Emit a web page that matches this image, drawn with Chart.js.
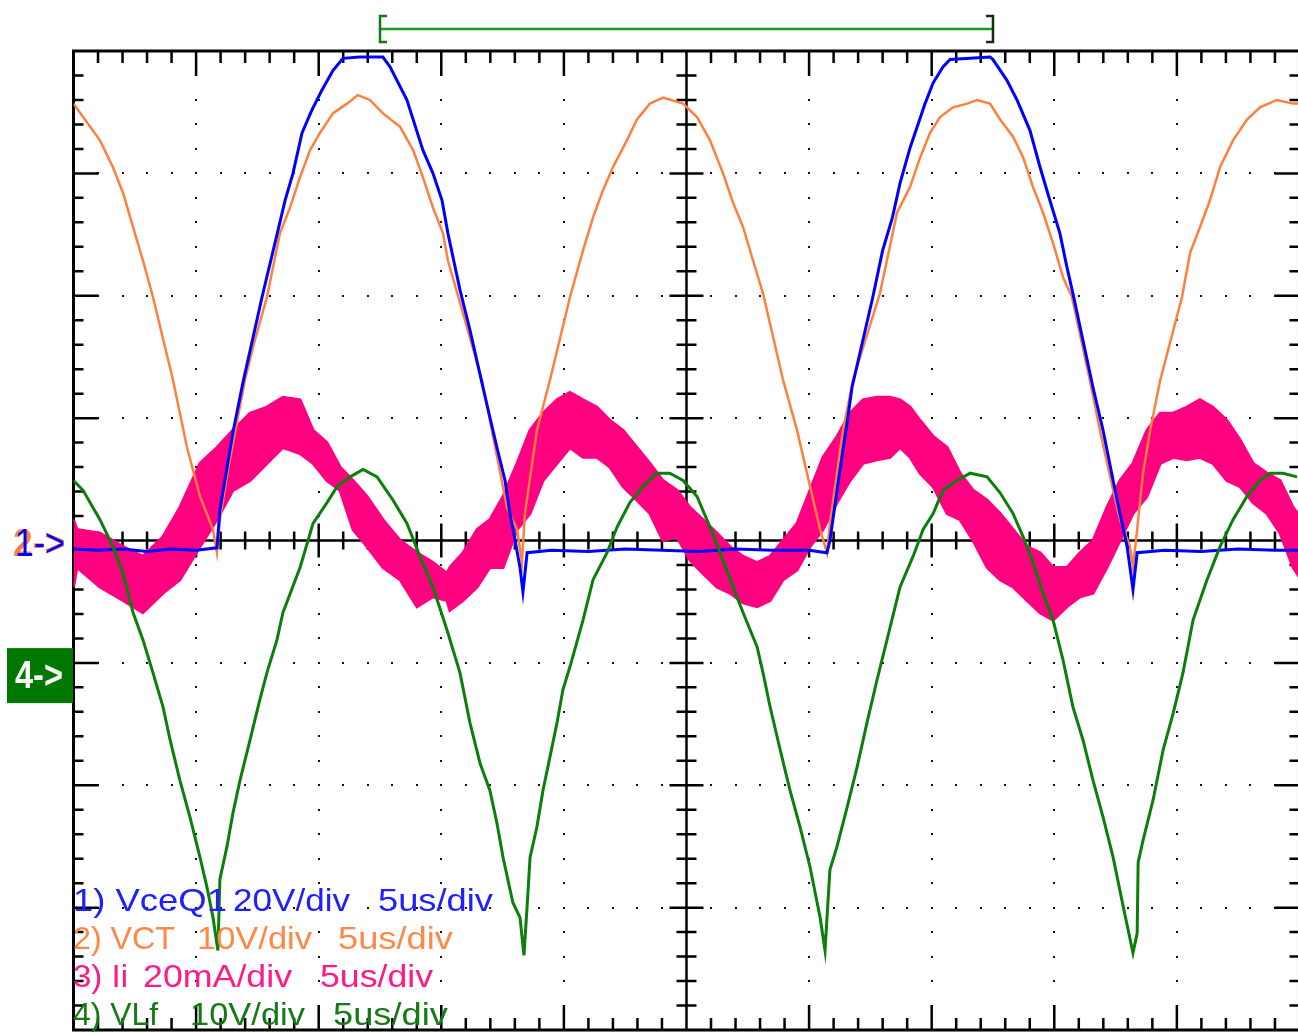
<!DOCTYPE html>
<html>
<head>
<meta charset="utf-8">
<title>Scope capture</title>
<script src="https://cdn.jsdelivr.net/npm/chart.js@4.4.0/dist/chart.umd.min.js"></script>
<style>
    html, body { margin: 0; padding: 0; background: #ffffff; }
    #wrap { width: 1298px; height: 1032px; position: relative; }
</style>
</head>
<body>
<div id="wrap"><canvas id="scope" width="1298" height="1032"></canvas></div>
<script>
// time in us (5 us/div, 10 div), values in screen divisions (8 div, 0 = centre)

var vceQ1 = [[0,-0.07],[1,-0.08],[2,-0.07],[3,-0.09],[4,-0.07],[5,-0.08],[5.85,-0.06],[5.97,0.25],[6.50,0.88],[6.91,1.29],
    [7.69,1.99],[8.18,2.40],[8.63,2.78],[8.95,3.00],[9.32,3.33],[9.73,3.52],[10.13,3.68],[10.58,3.84],[10.99,3.94],[11.68,3.95],
    [12.62,3.95],[12.91,3.87],[13.60,3.60],[14.25,3.19],[14.66,3.00],[15.03,2.78],[15.27,2.51],[15.76,2.05],[16.17,1.72],[16.70,1.25],
    [17.27,0.76],[17.60,0.49],[17.80,0.22],[18.01,0.00],[18.21,-0.22],[18.33,-0.42],[18.50,-0.10],[19.5,-0.08],[21,-0.09],[22.5,-0.07],
    [24,-0.08],[25.5,-0.09],[27,-0.07],[28.5,-0.08],[30,-0.08],[30.73,-0.10],[30.85,0.00],[31.2,0.49],[31.55,0.96],[31.75,1.25],
    [32.6,1.99],[33.0,2.37],[33.4,2.64],[33.71,2.92],[34.12,3.21],[34.73,3.57],[35.06,3.74],[35.46,3.87],[35.75,3.93],[37.38,3.95],
    [37.50,3.93],[38.07,3.76],[38.48,3.60],[39.01,3.35],[39.42,3.05],[39.82,2.78],[40.23,2.51],[40.52,2.23],[40.76,2.02],[41.58,1.25],
    [41.99,0.90],[42.40,0.49],[42.68,0.22],[42.97,-0.05],[43.21,-0.40],[43.38,-0.10],[44.5,-0.08],[46,-0.09],[47.5,-0.07],[49,-0.08],[50,-0.08]];

var vct = [[0,3.57],[0.39,3.46],[1.08,3.27],[1.61,3.05],[2.02,2.84],[2.43,2.56],[2.83,2.29],[3.24,1.99],[4.06,1.31],[4.63,0.76],
    [5.16,0.36],[5.69,0.09],[5.85,-0.10],[5.97,0.17],[6.30,0.58],[6.99,1.31],[7.40,1.64],[7.89,1.99],[8.42,2.51],[8.83,2.72],
    [9.24,2.97],[9.65,3.19],[10.05,3.33],[10.58,3.49],[11.15,3.57],[11.60,3.64],[12.09,3.60],[12.62,3.49],[13.32,3.38],[13.85,3.19],
    [14.25,2.97],[14.66,2.72],[15.07,2.51],[15.27,2.29],[16.66,1.31],[17.68,0.27],[18.09,0.09],[18.29,-0.18],[18.41,0.22],[18.90,0.90],
    [19.43,1.31],[20.25,1.99],[20.78,2.37],[21.19,2.64],[21.59,2.86],[22.00,3.05],[22.57,3.27],[22.98,3.44],[23.51,3.57],[24.04,3.62],
    [24.86,3.57],[25.43,3.46],[25.96,3.27],[26.49,3.00],[26.90,2.76],[27.31,2.56],[27.71,2.29],[28.12,2.02],[28.94,1.31],[29.51,0.90],
    [30.04,0.44],[30.45,0.09],[30.73,-0.10],[30.85,0.14],[31.38,0.90],[31.79,1.31],[32.89,2.02],[33.59,2.68],[34.12,2.89],[34.53,3.13],
    [34.93,3.33],[35.34,3.46],[35.87,3.54],[36.45,3.57],[36.85,3.60],[37.38,3.57],[37.79,3.44],[38.32,3.30],[38.73,3.13],[39.13,2.89],
    [39.54,2.68],[39.95,2.43],[40.36,2.15],[40.72,1.99],[41.45,1.31],[41.86,0.90],[42.40,0.41],[42.68,0.17],[43.09,-0.05],[43.21,-0.22],
    [43.38,0.09],[43.62,0.55],[43.91,0.90],[44.32,1.31],[45.21,1.99],[45.54,2.35],[45.94,2.56],[46.35,2.78],[46.76,3.05],[47.29,3.27],
    [47.86,3.44],[48.39,3.54],[49.08,3.60],[49.74,3.57],[50,3.57]];

var vlf = [[0,0.49],[0.39,0.41],[1.08,0.17],[1.61,-0.05],[2.02,-0.27],[2.43,-0.59],[2.83,-0.81],[3.24,-1.08],[3.65,-1.36],[3.94,-1.63],
    [4.34,-1.96],[4.75,-2.26],[5.16,-2.59],[5.44,-2.83],[5.69,-3.08],[5.89,-3.35],[5.97,-2.77],[6.26,-2.50],[6.50,-2.23],[6.79,-1.96],
    [7.20,-1.63],[7.60,-1.30],[7.89,-1.08],[8.30,-0.81],[8.54,-0.59],[9.24,-0.22],[9.77,0.14],[10.34,0.31],[10.75,0.44],[11.28,0.52],
    [11.81,0.58],[12.38,0.52],[13.03,0.33],[13.60,0.14],[14.13,-0.13],[14.66,-0.38],[15.23,-0.73],[15.76,-1.08],[16.17,-1.49],[16.58,-1.82],
    [16.98,-2.04],[17.27,-2.31],[17.52,-2.59],[17.92,-2.96],[18.21,-3.08],[18.37,-3.39],[18.50,-2.99],[18.62,-2.59],[18.90,-2.34],[19.15,-2.04],
    [19.43,-1.77],[19.72,-1.49],[19.96,-1.22],[20.25,-1.03],[20.78,-0.65],[21.19,-0.32],[21.76,-0.10],[22.17,0.11],[22.69,0.31],[23.22,0.44],
    [23.79,0.55],[24.32,0.55],[24.86,0.49],[25.43,0.36],[25.96,0.11],[26.37,-0.10],[26.90,-0.38],[27.31,-0.59],[27.88,-0.87],[28.12,-1.08],
    [28.41,-1.36],[28.82,-1.71],[29.22,-2.04],[29.63,-2.34],[30.04,-2.67],[30.45,-3.08],[30.65,-3.35],[30.85,-2.69],[31.14,-2.50],[31.55,-2.18],
    [31.96,-1.85],[32.36,-1.49],[32.77,-1.14],[33.18,-0.81],[33.71,-0.38],[34.24,-0.13],[34.65,0.09],[35.06,0.22],[35.46,0.41],[36.04,0.49],
    [36.57,0.55],[37.26,0.52],[37.79,0.39],[38.32,0.22],[38.73,0.03],[39.13,-0.18],[39.54,-0.43],[39.95,-0.65],[40.36,-0.98],[40.76,-1.36],
    [41.17,-1.63],[41.58,-1.96],[41.99,-2.26],[42.40,-2.59],[42.81,-2.99],[43.21,-3.37],[43.38,-3.21],[43.42,-2.63],[43.62,-2.45],[44.03,-2.12],
    [44.44,-1.71],[44.85,-1.41],[45.25,-1.08],[45.66,-0.65],[46.23,-0.32],[46.76,-0.05],[47.29,0.17],[47.86,0.36],[48.39,0.49],[48.80,0.55],
    [49.33,0.55],[49.90,0.52]];

// Ii is a noisy band: [time, upper edge, lower edge]
var iiBand = [[0,0.17,-0.38],[0.14,0.09,-0.22],[1.08,0.06,-0.38],[2.02,-0.05,-0.49],[2.83,-0.13,-0.59],[3.65,0.03,-0.43],[4.34,0.27,-0.32],
    [5.16,0.63,-0.05],[5.85,0.76,0.17],[6.50,0.90,0.41],[7.20,1.04,0.49],[7.89,1.09,0.63],[8.54,1.17,0.76],[9.24,1.15,0.71],[9.77,0.90,0.63],
    [10.34,0.80,0.49],[10.87,0.60,0.41],[11.40,0.49,0.09],[11.97,0.36,-0.05],[12.62,0.17,-0.22],[13.32,0.00,-0.32],[14.01,-0.10,-0.54],
    [14.66,-0.18,-0.46],[15.23,-0.27,-0.49],[15.35,-0.22,-0.57],[15.89,-0.10,-0.49],[16.46,0.09,-0.38],[16.98,0.17,-0.22],[17.52,0.36,-0.22],
    [18.09,0.63,0.09],[18.62,0.90,0.22],[19.15,1.04,0.49],[19.72,1.15,0.63],[20.25,1.21,0.76],[20.78,1.15,0.68],[21.35,1.09,0.68],
    [21.88,0.98,0.60],[22.41,0.90,0.44],[22.98,0.76,0.33],[23.51,0.63,0.22],[24.04,0.49,0.00],[24.61,0.41,0.03],[25.14,0.27,-0.16],
    [25.67,0.17,-0.27],[26.24,0.06,-0.38],[26.77,-0.05,-0.43],[27.31,-0.13,-0.51],[27.88,-0.18,-0.54],[28.41,-0.13,-0.49],[28.94,0.00,-0.32],
    [29.51,0.14,-0.24],[30.04,0.41,-0.05],[30.57,0.68,0.09],[31.14,0.85,0.31],[31.67,1.04,0.49],[32.20,1.15,0.63],[32.77,1.17,0.66],
    [33.30,1.17,0.68],[33.71,1.15,0.76],[34.12,1.09,0.68],[34.53,0.98,0.55],[35.06,0.85,0.44],[35.63,0.76,0.22],[36.16,0.55,0.17],
    [36.69,0.41,0.00],[37.26,0.33,-0.22],[37.79,0.22,-0.32],[38.32,0.09,-0.38],[38.89,-0.05,-0.49],[39.42,-0.10,-0.59],[39.95,-0.22,-0.65],
    [40.52,-0.22,-0.54],[41.05,-0.10,-0.46],[41.58,0.00,-0.43],[42.15,0.27,-0.22],[42.68,0.49,0.00],[43.21,0.63,0.22],[43.78,0.90,0.36],
    [44.32,1.04,0.63],[44.85,1.04,0.68],[45.41,1.09,0.66],[45.94,1.15,0.68],[46.47,1.09,0.63],[47.04,0.98,0.49],[47.58,0.82,0.44],
    [48.11,0.63,0.31],[48.68,0.55,0.22],[49.21,0.49,0.06],[49.74,0.27,-0.22],[50,0.20,-0.30]];

var cursorTimes = [12.5, 37.5];
var groundRefs = [['2->', 0], ['4->', -1.1]];
var legendLines = [
    ['1) VceQ1', '20V/div', '5us/div'],
    ['2) VCT', '10V/div', '5us/div'],
    ['3) Ii', '20mA/div', '5us/div'],
    ['4) VLf', '10V/div', '5us/div']
];

var BLUE = '#0000ff', ORANGE = '#ff7f3f', PINK = '#ff0080', GREEN = '#0a7f0a';

function pts(arr, col) {
    return arr.map(function (p) { return { x: p[0], y: p[col] }; });
}

// stretch text so it fills the width it has on the scope screen
function fitText(ctx, txt, x0, x1, base) {
    var w = ctx.measureText(txt).width;
    ctx.save();
    ctx.translate(x0, base);
    ctx.scale((x1 - x0) / w, 1);
    ctx.fillText(txt, 0, 0);
    ctx.restore();
}

var graticule = {
    id: 'graticule',
    beforeDatasetsDraw: function (chart) {
        var ctx = chart.ctx, xs = chart.scales.x, ys = chart.scales.y;
        var L = xs.getPixelForValue(0), R = xs.getPixelForValue(50);
        var T = ys.getPixelForValue(4), B = ys.getPixelForValue(-4);
        var CX = xs.getPixelForValue(25), CY = ys.getPixelForValue(0);
        var i, k, x, y, len;
        ctx.save();
        ctx.fillStyle = '#111';
        // dotted division lines
        for (i = 1; i < 10; i++) {
            if (i === 5) continue;
            x = Math.round(xs.getPixelForValue(i * 5));
            for (k = 1; k < 40; k++) {
                y = Math.round(ys.getPixelForValue(4 - k * 0.2));
                ctx.fillRect(x - 1, y - 1, 2, 2);
            }
        }
        for (i = 1; i < 8; i++) {
            if (i === 4) continue;
            y = Math.round(ys.getPixelForValue(4 - i));
            for (k = 1; k < 50; k++) {
                x = Math.round(xs.getPixelForValue(k));
                ctx.fillRect(x - 1, y - 1, 2, 2);
            }
        }
        ctx.strokeStyle = '#000';
        ctx.lineWidth = 3;
        ctx.strokeRect(L, T, R - L, B - T);
        ctx.lineWidth = 2.5;
        ctx.beginPath();
        ctx.moveTo(CX, T); ctx.lineTo(CX, B);
        ctx.moveTo(L, CY); ctx.lineTo(R, CY);
        // ticks along time
        for (k = 1; k < 50; k++) {
            x = xs.getPixelForValue(k);
            len = (k % 5 === 0) ? 25 : 12;
            ctx.moveTo(x, T); ctx.lineTo(x, T + len);
            ctx.moveTo(x, B); ctx.lineTo(x, B - len);
            len = (k % 5 === 0) ? 17 : 9;
            ctx.moveTo(x, CY - len); ctx.lineTo(x, CY + len);
        }
        // ticks along volts
        for (k = 1; k < 40; k++) {
            y = ys.getPixelForValue(4 - k * 0.2);
            len = (k % 5 === 0) ? 25 : 10;
            ctx.moveTo(L, y); ctx.lineTo(L + len, y);
            ctx.moveTo(R, y); ctx.lineTo(R - len, y);
            len = (k % 5 === 0) ? 17 : 10;
            ctx.moveTo(CX - len, y); ctx.lineTo(CX + len, y);
        }
        ctx.stroke();
        ctx.restore();
    },
    afterDatasetsDraw: function (chart) {
        var ctx = chart.ctx, xs = chart.scales.x, ys = chart.scales.y;
        ctx.save();

        // cursor bracket above the screen
        var c0 = xs.getPixelForValue(cursorTimes[0]), c1 = xs.getPixelForValue(cursorTimes[1]);
        ctx.lineWidth = 2.5;
        ctx.strokeStyle = '#1f9a1f';
        ctx.beginPath();
        ctx.moveTo(c0, 29); ctx.lineTo(c1, 29);
        ctx.stroke();
        ctx.strokeStyle = '#137a13';
        ctx.beginPath();
        ctx.moveTo(c0 + 7, 16); ctx.lineTo(c0, 16); ctx.lineTo(c0, 42); ctx.lineTo(c0 + 7, 42);
        ctx.stroke();
        ctx.strokeStyle = '#103010';
        ctx.beginPath();
        ctx.moveTo(c1 - 7, 16); ctx.lineTo(c1, 16); ctx.lineTo(c1, 42); ctx.lineTo(c1 - 7, 42);
        ctx.stroke();

        // ground markers
        ctx.font = 'bold 38px "Liberation Sans", Arial, sans-serif';
        var y2 = ys.getPixelForValue(groundRefs[0][1]);
        ctx.fillStyle = ORANGE;
        fitText(ctx, groundRefs[0][0], 13, 65, y2 + 15);
        ctx.font = '38px "Liberation Sans", Arial, sans-serif';
        ctx.fillStyle = BLUE;
        fitText(ctx, '1->', 15, 65, y2 + 15);
        var y4 = ys.getPixelForValue(groundRefs[1][1]);
        ctx.fillStyle = '#007800';
        ctx.fillRect(7, y4 - 27, 66, 55);
        ctx.font = 'bold 38px "Liberation Sans", Arial, sans-serif';
        ctx.fillStyle = '#ffffff';
        fitText(ctx, groundRefs[1][0], 15, 63, y4 + 13);

        // channel legend
        var cols = ['#2020ff', '#ff8846', '#ff1a8a', '#157a15'];
        var spans = [
            [[73, 227], [233, 350], [378, 493]],
            [[73, 175], [197, 312], [338, 453]],
            [[73, 128], [143, 292], [320, 433]],
            [[73, 158], [190, 305], [333, 448]]
        ];
        ctx.font = '32px "Liberation Sans", Arial, sans-serif';
        legendLines.forEach(function (line, r) {
            ctx.fillStyle = cols[r];
            line.forEach(function (txt, j) {
                fitText(ctx, txt, spans[r][j][0], spans[r][j][1], 911 + r * 38);
            });
        });
        ctx.restore();
    }
};

var lineBase = { showLine: true, pointRadius: 0, borderWidth: 2.5, tension: 0, fill: false };

new Chart(document.getElementById('scope'), {
    type: 'scatter',
    data: {
        datasets: [
            Object.assign({}, lineBase, { label: 'VLf', data: pts(vlf, 1), borderColor: GREEN, borderWidth: 3, order: 0 }),
            Object.assign({}, lineBase, { label: 'VceQ1', data: pts(vceQ1, 1), borderColor: BLUE, borderWidth: 3, order: 1 }),
            Object.assign({}, lineBase, { label: 'VCT', data: pts(vct, 1), borderColor: ORANGE, order: 2 }),
            Object.assign({}, lineBase, { label: 'Ii hi', data: pts(iiBand, 1), borderColor: PINK, backgroundColor: PINK, borderWidth: 3, fill: '+1', order: 3 }),
            Object.assign({}, lineBase, { label: 'Ii lo', data: pts(iiBand, 2), borderColor: PINK, borderWidth: 3, order: 4 })
        ]
    },
    options: {
        responsive: false,
        animation: false,
        events: [],
        layout: { padding: { left: 73.5, right: 0, top: 51, bottom: 2 } },
        scales: {
            x: { type: 'linear', min: 0, max: 49.94, display: false },
            y: { min: -4, max: 4, display: false }
        },
        plugins: {
            legend: { display: false },
            tooltip: { enabled: false }
        }
    },
    plugins: [graticule]
});
</script>
</body>
</html>
